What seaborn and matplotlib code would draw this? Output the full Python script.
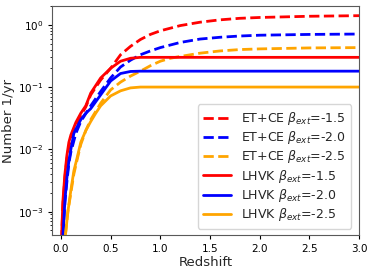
import numpy as np
import pandas as pd
import matplotlib
matplotlib.use("Agg")
import matplotlib.pyplot as plt
import seaborn as sns

# ---- data ----
z_et15 = [0.005, 0.01, 0.02, 0.04, 0.06, 0.08, 0.1, 0.15, 0.2, 0.25, 0.3, 0.4, 0.5, 0.6, 0.7, 0.8, 0.9, 1.0, 1.2, 1.4, 1.6, 1.8, 2.0, 2.5, 3.0]
n_et15 = [2e-4, 5e-4, 1.3e-3, 3.5e-3, 7e-3, 0.011, 0.015, 0.025, 0.035, 0.048, 0.075, 0.13, 0.2, 0.33, 0.45, 0.58, 0.7, 0.8, 0.97, 1.1, 1.2, 1.27, 1.31, 1.37, 1.40]

z_et20 = [0.01, 0.025, 0.04, 0.06, 0.08, 0.1, 0.15, 0.2, 0.3, 0.4, 0.5, 0.6, 0.7, 0.8, 0.9, 1.0, 1.2, 1.4, 1.6, 1.8, 2.0, 2.5, 3.0]
n_et20 = [2.5e-4, 5.5e-4, 1.4e-3, 3e-3, 6e-3, 9e-3, 0.018, 0.028, 0.05, 0.085, 0.14, 0.21, 0.27, 0.33, 0.38, 0.43, 0.52, 0.59, 0.63, 0.66, 0.68, 0.70, 0.71]

z_et25 = [0.03, 0.05, 0.07, 0.1, 0.13, 0.16, 0.2, 0.25, 0.3, 0.4, 0.5, 0.6, 0.7, 0.8, 0.9, 1.0, 1.1, 1.2, 1.4, 1.6, 1.8, 2.0, 2.5, 3.0]
n_et25 = [2.5e-4, 5e-4, 1e-3, 2e-3, 4e-3, 6.5e-3, 0.012, 0.02, 0.03, 0.055, 0.09, 0.12, 0.15, 0.18, 0.22, 0.26, 0.29, 0.31, 0.35, 0.38, 0.40, 0.41, 0.425, 0.43]

z_lh15 = [0.005, 0.01, 0.02, 0.04, 0.06, 0.08, 0.1, 0.15, 0.2, 0.25, 0.3, 0.4, 0.5, 0.6, 0.7, 0.8, 1.0, 2.0, 3.0]
n_lh15 = [2e-4, 5.5e-4, 1.5e-3, 4e-3, 8e-3, 0.013, 0.017, 0.027, 0.038, 0.05, 0.08, 0.14, 0.2, 0.26, 0.29, 0.30, 0.30, 0.30, 0.30]

z_lh20 = [0.01, 0.025, 0.04, 0.06, 0.08, 0.1, 0.13, 0.15, 0.2, 0.25, 0.3, 0.4, 0.5, 0.6, 0.7, 0.8, 1.0, 2.0, 3.0]
n_lh20 = [2.5e-4, 5.5e-4, 1.5e-3, 3.5e-3, 6.5e-3, 0.01, 0.018, 0.021, 0.03, 0.038, 0.045, 0.075, 0.125, 0.165, 0.178, 0.18, 0.18, 0.18, 0.18]

z_lh25 = [0.03, 0.05, 0.07, 0.1, 0.13, 0.16, 0.2, 0.25, 0.3, 0.35, 0.4, 0.5, 0.6, 0.7, 0.8, 1.0, 2.0, 3.0]
n_lh25 = [2.5e-4, 5e-4, 1e-3, 2.2e-3, 4.5e-3, 7e-3, 0.013, 0.02, 0.028, 0.038, 0.05, 0.072, 0.087, 0.097, 0.10, 0.10, 0.10, 0.10]

labels = [r"ET+CE $\beta_{ext}$=-1.5", r"ET+CE $\beta_{ext}$=-2.0", r"ET+CE $\beta_{ext}$=-2.5",
          r"LHVK $\beta_{ext}$=-1.5", r"LHVK $\beta_{ext}$=-2.0", r"LHVK $\beta_{ext}$=-2.5"]
series = [(z_et15, n_et15), (z_et20, n_et20), (z_et25, n_et25),
          (z_lh15, n_lh15), (z_lh20, n_lh20), (z_lh25, n_lh25)]
colors = ["red", "blue", "orange", "red", "blue", "orange"]
styles = ["--", "--", "--", "-", "-", "-"]

sns.set_style("ticks")
plt.rcParams["font.family"] = ["DejaVu Sans"]
plt.rcParams["axes.edgecolor"] = "black"
plt.rcParams["xtick.color"] = "black"
plt.rcParams["ytick.color"] = "black"

fig = plt.figure(figsize=(3.74, 2.74), dpi=100)
ax = fig.add_axes([0.139, 0.142, 0.821, 0.836])

for (z, n), lab, c, ls in zip(series, labels, colors, styles):
    sns.lineplot(x=z, y=n, ax=ax, color=c, linestyle=ls, linewidth=2.0, label=lab)

ax.set_yscale("log")
ax.set_xlim(-0.09, 3.0)
ax.set_ylim(4.2e-4, 2.0)
ax.set_xticks([0.0, 0.5, 1.0, 1.5, 2.0, 2.5, 3.0])
ax.tick_params(axis="both", labelsize=7.5, length=3)
ax.tick_params(axis="y", which="minor", length=1.8)
ax.set_xlabel("Redshift", fontsize=9.5, labelpad=1)
ax.set_ylabel("Number 1/yr", fontsize=9.5, labelpad=2)
for s in ax.spines.values():
    s.set_linewidth(0.8)
    s.set_color("0.35")

leg = ax.legend(loc="lower right", fontsize=9, frameon=True, handlelength=2.2,
                labelspacing=0.18, borderpad=0.45, handletextpad=0.8,
                bbox_to_anchor=(0.995, 0.0))
leg.get_frame().set_edgecolor("0.8")

fig.savefig("out.png", dpi=100)
